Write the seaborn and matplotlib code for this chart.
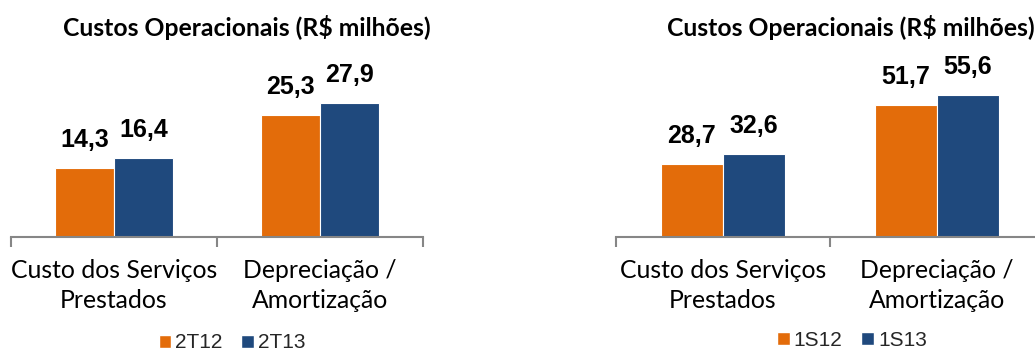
import matplotlib
matplotlib.use("Agg")
import matplotlib.pyplot as plt
from matplotlib.patches import Patch
import seaborn as sns
import pandas as pd

categories = ["Custo dos Serviços\nPrestados", "Depreciação /\nAmortização"]
left_periods = ["2T12", "2T13"]
left_2T12 = [14.3, 25.3]
left_2T13 = [16.4, 27.9]
right_periods = ["1S12", "1S13"]
right_1S12 = [28.7, 51.7]
right_1S13 = [32.6, 55.6]
title = "Custos Operacionais (R$ milhões)"

ORANGE = "#E36C0A"
BLUE = "#1F497D"
GRAY = "#868686"

sns.set_theme(style="white")
plt.rcParams["font.family"] = ["Lato", "DejaVu Sans"]

fig = plt.figure(figsize=(10.35, 3.54), dpi=100)
W, H = 1035, 354


def make_df(periods, a, b):
    rows = []
    for p, vals in zip(periods, [a, b]):
        for c, v in zip(categories, vals):
            rows.append({"cat": c, "period": p, "val": v})
    return pd.DataFrame(rows)


def panel(x0_px, x1_px, periods, a, b, scale_px, width, title_xy, leg_xy):
    bottom_px = 237
    top_px = 60
    ax = fig.add_axes([x0_px / W, (H - bottom_px) / H,
                       (x1_px - x0_px) / W, (bottom_px - top_px) / H])
    df = make_df(periods, a, b)
    sns.barplot(data=df, x="cat", y="val", hue="period", palette=[ORANGE, BLUE],
                width=width, ax=ax, legend=False, edgecolor="white", linewidth=0.8,
                saturation=1)
    ax.set_ylim(0, (bottom_px - top_px) / scale_px)
    ax.set_xlim(-0.5, 1.5)
    for s in ["top", "left", "right"]:
        ax.spines[s].set_visible(False)
    ax.spines["bottom"].set_color(GRAY)
    ax.spines["bottom"].set_linewidth(1.5)
    ax.set_yticks([])
    ax.set_xlabel("")
    ax.set_ylabel("")
    ax.set_xticks([-0.5, 0.5, 1.5], minor=True)
    ax.tick_params(axis="x", which="minor", length=7, width=1.5, color=GRAY,
                   direction="out", bottom=True)
    ax.tick_params(axis="x", which="major", length=0, pad=16, labelsize=17.8,
                   labelcolor="black")
    for lbl in ax.get_xticklabels():
        lbl.set_linespacing(1.38)
    for cont in ax.containers:
        ax.bar_label(cont, labels=[f"{v:.1f}".replace(".", ",") for v in cont.datavalues],
                     padding=11.5, fontsize=18, fontweight="bold",
                     family=["Liberation Sans Narrow", "Liberation Sans", "DejaVu Sans"],
                     color="black")
    fig.text(title_xy[0] / W, 1 - title_xy[1] / H, title, ha="center", va="center",
             fontsize=17.8, fontweight="bold", color="black")
    handles = [Patch(facecolor=ORANGE, label=periods[0]),
               Patch(facecolor=BLUE, label=periods[1])]
    fig.legend(handles=handles, loc="center", ncol=2,
               bbox_to_anchor=(leg_xy[0] / W, 1 - leg_xy[1] / H), frameon=False,
               prop={"family": ["Liberation Sans", "DejaVu Sans"], "size": 15},
               handlelength=0.6, handleheight=0.6, handletextpad=0.2,
               columnspacing=0.9, borderpad=0, borderaxespad=0)
    return ax


panel(11, 423, left_periods, left_2T12, left_2T13, 4.82, 0.57, (247, 27), (232, 343))
panel(616, 1044, right_periods, right_1S12, right_1S13, 2.56, 0.58, (851, 28), (852, 340))

fig.savefig("out.png", dpi=100)
